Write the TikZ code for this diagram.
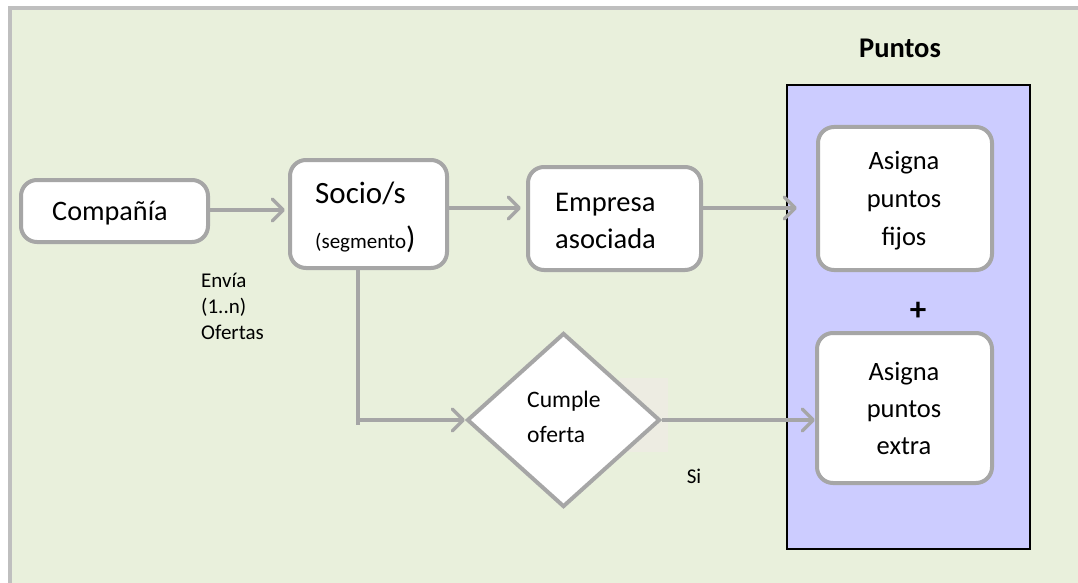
\documentclass[tikz,border=0pt]{standalone}
\usepackage{fontspec}
\setmainfont{Carlito}
\usetikzlibrary{arrows.meta,shapes.geometric}
\definecolor{bggreen}{RGB}{233,240,220}
\definecolor{framegray}{RGB}{191,191,191}
\definecolor{linegray}{RGB}{166,166,166}
\definecolor{panelblue}{RGB}{204,204,255}
\definecolor{patchbeige}{RGB}{237,236,226}

\begin{document}
\begin{tikzpicture}[x=1pt,y=-1pt,
  procbox/.style={draw=linegray, line width=4pt, fill=white, rounded corners=16pt, inner sep=0pt},
  decision/.style={diamond, draw=linegray, line width=4pt, fill=white, inner sep=0pt},
  flow/.style={draw=linegray, line width=3.5pt, -{Straight Barb[length=11pt,width=22pt,line join=round,line cap=round]}},
  plain/.style={draw=linegray, line width=3.5pt},
  txt/.style={inner sep=0pt, align=left, text=black},
  ctxt/.style={inner sep=0pt, align=center, text=black}
]
% page, frame and background
\useasboundingbox (0,0) rectangle (1078,583);
\fill[white] (0,0) rectangle (1078,583);
\fill[framegray] (8,6) rectangle (1078,583);
\fill[bggreen] (12,10) rectangle (1078,583);

% points panel
\node[draw=black, line width=2.5pt, fill=panelblue, minimum width=243pt, minimum height=464pt, inner sep=0pt]
  (panel) at (908.5,317) {};
\node[ctxt, font=\fontsize{28.5}{30}\selectfont\bfseries] (ptitle) at (900,48) {Puntos};
\node[ctxt, font=\fontsize{33}{33}\selectfont\bfseries] (plus) at (918,311) {+};

% process boxes
\node[procbox, minimum width=187pt, minimum height=62pt] (comp) at (114.5,211) {};
\node[txt, font=\fontsize{28.2}{30}\selectfont] (compt) at (110,213) {Compañía};

\node[procbox, minimum width=157pt, minimum height=108pt] (socio) at (368.5,214) {};
\node[txt, font=\fontsize{31}{30}\selectfont, anchor=west] (sociot) at (315,193) {Socio/s};
\node[txt, font=\fontsize{21}{24}\selectfont, anchor=west] (segt) at (315,239)
  {(segmento\fontsize{31}{30}\selectfont)};

\node[procbox, minimum width=173pt, minimum height=103pt] (emp) at (614.5,218.5) {};
\node[txt, font=\fontsize{28.5}{37}\selectfont, anchor=west] (empt) at (555,221) {Empresa\\asociada};

\node[procbox, minimum width=174pt, minimum height=143pt] (fijos) at (905,198.5) {};
\node[ctxt, font=\fontsize{26.5}{38}\selectfont] (fijost) at (904,201) {Asigna\\puntos\\fijos};

\node[procbox, minimum width=175pt, minimum height=150pt] (extra) at (904.5,408) {};
\node[ctxt, font=\fontsize{26.5}{37}\selectfont] (extrat) at (904,408) {Asigna\\puntos\\extra};

% decision
\fill[patchbeige] (620,378) rectangle (668,452);
\node[decision, minimum width=193pt, minimum height=174pt] (dec) at (563.5,420) {};
\node[txt, font=\fontsize{23.6}{35}\selectfont, anchor=west] (dect) at (527,417) {Cumple\\oferta};

% free labels
\node[txt, font=\fontsize{21}{26}\selectfont, anchor=north west] (envia) at (201,273) {Envía\\(1..n)\\Ofertas};
\node[txt, font=\fontsize{21}{24}\selectfont] (si) at (694,476) {Si};

% connector points
\coordinate (drop) at (358,425);
\coordinate (split) at (358,420);
\coordinate (empout) at (701,208);
\coordinate (panelin) at (797,208);

% connectors
\draw[flow, shorten >=3pt] (comp.east |- 0,210) -- (socio.west |- 0,210);
\draw[flow, shorten >=5pt] (socio.east |- 0,208) -- (emp.west |- 0,208);
\draw[flow] (empout) -- (panelin);
\draw[plain] (socio.south -| drop) -- (drop);
\draw[plain] (split) -- ++(-1.75,0);
\draw[flow] (split) -- (dec.west);
\draw[flow] (dec.east) -- (dec.east -| extra.west);
\end{tikzpicture}
\end{document}
